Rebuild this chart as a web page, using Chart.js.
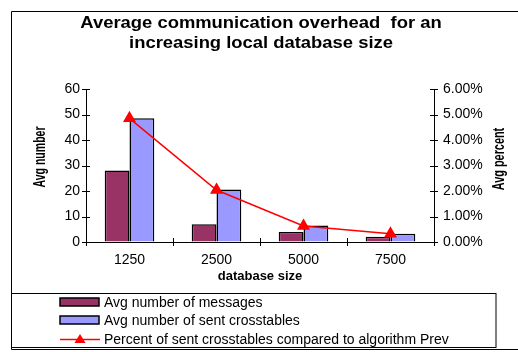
<!DOCTYPE html>
<html>
<head>
<meta charset="utf-8">
<script src="https://cdn.jsdelivr.net/npm/chart.js@4/dist/chart.umd.min.js"></script>
<style>
  html, body { margin: 0; padding: 0; background: #fff; }
  #wrap { width: 518px; height: 352px; position: relative; }
</style>
</head>
<body>
<div id="wrap"><canvas id="c" width="518" height="352"></canvas></div>
<script>
// Database sizes on the x axis
const categories = ['1250', '2500', '5000', '7500'];
// Average number of messages per run
const avgMessages = [28, 7, 3.9, 2.1];
// Average number of crosstables sent per run
const avgCrosstables = [48.5, 20.6, 6.5, 3.2];
// Percent of sent crosstables relative to algorithm Prev
const percentSent = [4.85, 2.04, 0.63, 0.32];

const titleLines = ['Average communication overhead  for an', 'increasing local database size'];
const leftTitle = 'Avg number';
const rightTitle = 'Avg percent';

const FONT = '"Liberation Sans", Arial, sans-serif';

// Draw text squeezed or stretched along its own direction
function drawScaledText(ctx, text, x, y, font, sx, rotation) {
  ctx.save();
  ctx.translate(x, y);
  ctx.rotate(rotation || 0);
  ctx.scale(sx, 1);
  ctx.font = font;
  ctx.textAlign = 'center';
  ctx.textBaseline = 'middle';
  ctx.fillStyle = '#000';
  ctx.fillText(text, 0, 0);
  ctx.restore();
}

// White background, outer frame, chart title, axis titles and legend box
const framePlugin = {
  id: 'frame',
  beforeDraw(chart) {
    const ctx = chart.ctx;
    ctx.save();
    ctx.fillStyle = '#fff';
    ctx.fillRect(0, 0, chart.width, chart.height);
    ctx.restore();
  },
  afterDraw(chart) {
    const ctx = chart.ctx;
    ctx.save();
    ctx.strokeStyle = '#000';
    ctx.lineWidth = 1;
    // outer frame
    ctx.beginPath();
    ctx.moveTo(530, 11.5);
    ctx.lineTo(11.5, 11.5);
    ctx.lineTo(11.5, 349.5);
    ctx.lineTo(530, 349.5);
    ctx.stroke();
    ctx.strokeStyle = '#666';
    ctx.beginPath();
    ctx.moveTo(12, 347.5);
    ctx.lineTo(496, 347.5);
    ctx.stroke();
    // legend box
    ctx.strokeStyle = '#000';
    ctx.strokeRect(11.5, 293.5, 484.5, 54);

    // chart title
    drawScaledText(ctx, titleLines[0], 261, 24, 'bold 16px ' + FONT, 1.15, 0);
    drawScaledText(ctx, titleLines[1], 261, 44, 'bold 16px ' + FONT, 1.15, 0);

    // axis titles (condensed, reading bottom to top)
    drawScaledText(ctx, leftTitle, 40, 157, 'bold 17px ' + FONT, 0.62, -Math.PI / 2);
    drawScaledText(ctx, rightTitle, 499, 159, 'bold 17px ' + FONT, 0.64, -Math.PI / 2);

    // legend entries built from the datasets
    const rows = [302, 320, 339];
    ctx.font = '14px ' + FONT;
    ctx.textBaseline = 'middle';
    chart.data.datasets.forEach((ds, i) => {
      const y = rows[i];
      if (ds.type === 'line') {
        ctx.strokeStyle = ds.borderColor;
        ctx.lineWidth = 1.5;
        ctx.beginPath();
        ctx.moveTo(60, y + 0.5);
        ctx.lineTo(100, y + 0.5);
        ctx.stroke();
        ctx.fillStyle = ds.pointBackgroundColor;
        ctx.beginPath();
        ctx.moveTo(80, y - 5);
        ctx.lineTo(85.5, y + 4);
        ctx.lineTo(74.5, y + 4);
        ctx.closePath();
        ctx.fill();
      } else {
        ctx.fillStyle = ds.backgroundColor;
        ctx.fillRect(60, y - 4, 39, 8);
        ctx.strokeStyle = '#000';
        ctx.lineWidth = 1.5;
        ctx.strokeRect(60, y - 4, 39, 8);
      }
      ctx.fillStyle = '#000';
      ctx.fillText(ds.label, 104, y + 1);
    });
    ctx.restore();
  }
};

// Tick marks that cross the axis lines
const crossTicks = {
  id: 'crossTicks',
  afterDatasetsDraw(chart) {
    const ctx = chart.ctx;
    const { x, y, y2 } = chart.scales;
    const a = chart.chartArea;
    ctx.save();
    ctx.strokeStyle = '#000';
    ctx.lineWidth = 1;
    ctx.beginPath();
    for (let i = 0; i <= categories.length; i++) {
      const px = Math.round(x.getPixelForValue(i - 0.5)) + 0.5;
      ctx.moveTo(px, a.bottom - 4);
      ctx.lineTo(px, a.bottom + 4);
    }
    y.ticks.forEach((t) => {
      const py = Math.round(y.getPixelForValue(t.value)) + 0.5;
      ctx.moveTo(a.left - 4, py);
      ctx.lineTo(a.left + 4, py);
    });
    y2.ticks.forEach((t) => {
      const py = Math.round(y2.getPixelForValue(t.value)) + 0.5;
      ctx.moveTo(a.right + 4, py);
      ctx.lineTo(a.right - 4, py);
    });
    ctx.stroke();
    ctx.restore();
  }
};

new Chart(document.getElementById('c'), {
  data: {
    labels: categories,
    datasets: [
      {
        type: 'bar',
        label: 'Avg number of messages',
        data: avgMessages,
        yAxisID: 'y',
        backgroundColor: '#993366',
        borderColor: '#000',
        borderWidth: 1.5,
        order: 1,
        categoryPercentage: 0.57,
        barPercentage: 1.0
      },
      {
        type: 'bar',
        label: 'Avg number of sent crosstables',
        data: avgCrosstables,
        yAxisID: 'y',
        backgroundColor: '#9999ff',
        borderColor: '#000',
        borderWidth: 1.5,
        order: 1,
        categoryPercentage: 0.57,
        barPercentage: 1.0
      },
      {
        type: 'line',
        label: 'Percent of sent crosstables compared to algorithm Prev',
        data: percentSent,
        yAxisID: 'y2',
        borderColor: '#ff0000',
        borderWidth: 1.5,
        pointStyle: 'triangle',
        pointRadius: 6,
        pointBackgroundColor: '#ff0000',
        pointBorderColor: '#ff0000',
        order: 0,
        tension: 0
      }
    ]
  },
  options: {
    responsive: false,
    animation: false,
    devicePixelRatio: 1,
    layout: { padding: { left: 12, right: 14, top: 89, bottom: 68 } },
    plugins: {
      legend: { display: false },
      tooltip: { enabled: false },
      title: { display: false }
    },
    scales: {
      x: {
        offset: true,
        grid: { display: false, drawTicks: false, offset: true },
        border: { color: '#000', width: 1 },
        ticks: { color: '#000', font: { family: FONT, size: 14 }, padding: 10 },
        title: {
          display: true,
          text: 'database size',
          color: '#000',
          font: { family: FONT, size: 13, weight: 'bold' },
          padding: { top: 0, bottom: 0 }
        },
        afterFit(s) { s.height = 42; }
      },
      y: {
        position: 'left',
        min: 0, max: 60,
        ticks: { stepSize: 10, color: '#000', font: { family: FONT, size: 14 }, padding: 6 },
        grid: { drawOnChartArea: false, drawTicks: false },
        border: { color: '#000', width: 1 },
        afterFit(s) { s.width = 74; }
      },
      y2: {
        position: 'right',
        min: 0, max: 6,
        ticks: {
          stepSize: 1, color: '#000', font: { family: FONT, size: 14 }, padding: 9,
          callback: (v) => v.toFixed(2) + '%'
        },
        grid: { drawOnChartArea: false, drawTicks: false },
        border: { color: '#000', width: 1 },
        afterFit(s) { s.width = 70; }
      }
    }
  },
  plugins: [framePlugin, crossTicks]
});
</script>
</body>
</html>
